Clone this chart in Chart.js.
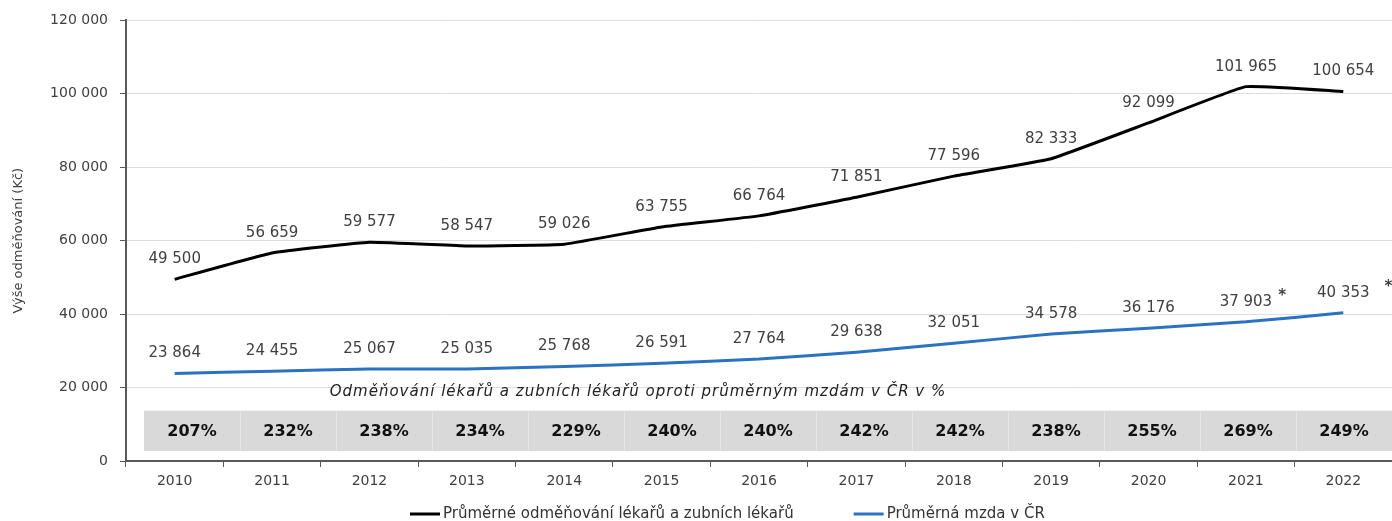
<!DOCTYPE html>
<html>
<head>
<meta charset="utf-8">
<script src="https://cdn.jsdelivr.net/npm/chart.js"></script>
<style>
  html, body { margin: 0; padding: 0; background: #fff; }
  #wrap { width: 1392px; height: 521px; }
</style>
</head>
<body>
<div id="wrap"><canvas id="chart"></canvas></div>
<script>
// data
const years = ['2010', '2011', '2012', '2013', '2014', '2015', '2016', '2017', '2018', '2019', '2020', '2021', '2022'];
const doctorPay = [49500, 56659, 59577, 58547, 59026, 63755, 66764, 71851, 77596, 82333, 92099, 101965, 100654];
const averageWage = [23864, 24455, 25067, 25035, 25768, 26591, 27764, 29638, 32051, 34578, 36176, 37903, 40353];
const ratioPct = [207, 232, 238, 234, 229, 240, 240, 242, 242, 238, 255, 269, 249];
const wageNotes = ['', '', '', '', '', '', '', '', '', '', '', '*', '*'];
const yTicks = [0, 20000, 40000, 60000, 80000, 100000, 120000];
const tableTitle = 'Odměňování lékařů a zubních lékařů oproti průměrným mzdám v ČR v %';

const fmt = v => String(v).replace(/\B(?=(\d{3})+(?!\d))/g, ' ');
const FONT = '"DejaVu Sans", sans-serif';

// grey ratio table + its caption, drawn under the lines
const ratioTable = {
  id: 'ratioTable',
  beforeDatasetsDraw(chart) {
    const { ctx, chartArea, scales: { y } } = chart;
    const top = y.getPixelForValue(13700);
    const bottom = y.getPixelForValue(2700);
    const left = chartArea.left + 18;
    const right = chartArea.right;
    const w = (right - left) / ratioPct.length;
    ctx.save();
    ctx.fillStyle = '#d9d9d9';
    ctx.fillRect(left, top, right - left, bottom - top);
    ctx.strokeStyle = '#e6e6e6';
    ctx.lineWidth = 1;
    for (let i = 1; i < ratioPct.length; i++) {
      const x = Math.round(left + w * i) + 0.5;
      ctx.beginPath();
      ctx.moveTo(x, top);
      ctx.lineTo(x, bottom);
      ctx.stroke();
    }
    ctx.fillStyle = '#111';
    ctx.font = 'bold 16px ' + FONT;
    ctx.textAlign = 'center';
    ctx.textBaseline = 'middle';
    ratioPct.forEach((p, i) => {
      ctx.fillText(p + '%', left + w * (i + 0.5), (top + bottom) / 2 + 1);
    });
    ctx.fillStyle = '#222';
    ctx.font = 'italic 15px ' + FONT;
    ctx.letterSpacing = '1px';
    ctx.fillText(tableTitle, 638, y.getPixelForValue(18700));
    ctx.restore();
  }
};

// value labels above every point
const valueLabels = {
  id: 'valueLabels',
  afterDatasetsDraw(chart) {
    const { ctx } = chart;
    ctx.save();
    ctx.font = '15px ' + FONT;
    ctx.fillStyle = '#404040';
    ctx.textAlign = 'center';
    ctx.textBaseline = 'middle';
    chart.data.datasets.forEach((ds, di) => {
      const meta = chart.getDatasetMeta(di);
      meta.data.forEach((pt, i) => {
        const txt = fmt(ds.data[i]);
        const ly = pt.y - 20;
        ctx.fillText(txt, pt.x, ly);
        if (di === 1 && wageNotes[i]) {
          const half = ctx.measureText(txt).width / 2;
          const gap = i === years.length - 1 ? 15 : 6;
          ctx.save();
          ctx.textAlign = 'left';
          ctx.font = 'bold 15px ' + FONT;
          ctx.fillText(wageNotes[i], pt.x + half + gap, ly - 6);
          ctx.restore();
        }
      });
    });
    ctx.restore();
  }
};

// legend under the axis: short line + label, laid out left to right
const lineLegend = {
  id: 'lineLegend',
  afterDraw(chart) {
    const { ctx } = chart;
    const yMid = chart.height - 7;
    let x = 410;
    ctx.save();
    ctx.font = '15px ' + FONT;
    ctx.textBaseline = 'middle';
    ctx.textAlign = 'left';
    chart.data.datasets.forEach(ds => {
      ctx.strokeStyle = ds.borderColor;
      ctx.lineWidth = 3;
      ctx.beginPath();
      ctx.moveTo(x, yMid);
      ctx.lineTo(x + 30, yMid);
      ctx.stroke();
      ctx.fillStyle = '#333';
      ctx.fillText(ds.label, x + 33, yMid);
      x += 33 + ctx.measureText(ds.label).width + 60;
    });
    ctx.restore();
  }
};

new Chart(document.getElementById('chart'), {
  type: 'line',
  data: {
    labels: years,
    datasets: [
      {
        label: 'Průměrné odměňování lékařů a zubních lékařů',
        data: doctorPay,
        borderColor: '#000000',
        backgroundColor: '#000000',
        borderWidth: 3,
        pointRadius: 0,
        tension: 0.1
      },
      {
        label: 'Průměrná mzda v ČR',
        data: averageWage,
        borderColor: '#2b72c2',
        backgroundColor: '#2b72c2',
        borderWidth: 3,
        pointRadius: 0,
        tension: 0.1
      }
    ]
  },
  options: {
    responsive: true,
    maintainAspectRatio: false,
    animation: false,
    layout: { padding: { top: 20, right: 0, left: 0, bottom: 26 } },
    plugins: {
      tooltip: { enabled: false },
      legend: { display: false }
    },
    scales: {
      x: {
        offset: true,
        grid: { offset: true, drawOnChartArea: false, tickLength: 6, tickColor: '#595959' },
        border: { color: '#595959', width: 2 },
        ticks: { font: { family: FONT, size: 14 }, color: '#404040', padding: 6 },
        afterFit: s => { s.height = 34; }
      },
      y: {
        min: 0,
        max: 120000,
        afterBuildTicks: s => { s.ticks = yTicks.map(v => ({ value: v })); },
        grid: { color: '#dedede', tickLength: 6, tickColor: '#595959' },
        border: { color: '#595959', width: 2 },
        ticks: { font: { family: FONT, size: 14 }, color: '#404040', padding: 12, callback: v => fmt(v) },
        title: {
          display: true,
          text: 'Výše odměňování (Kč)',
          font: { family: FONT, size: 13 },
          color: '#404040',
          padding: { top: 11, bottom: 0 }
        },
        afterFit: s => { s.width = 126; }
      }
    }
  },
  plugins: [ratioTable, valueLabels, lineLegend]
});
</script>
</body>
</html>
